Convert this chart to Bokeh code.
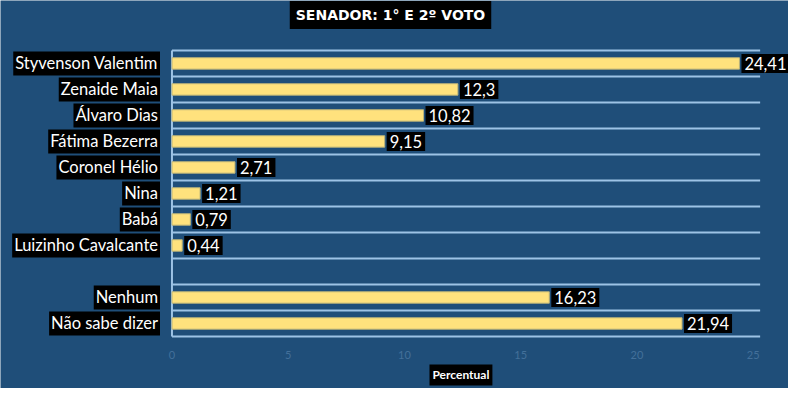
from bokeh.plotting import figure
from bokeh.models import ColumnDataSource, LabelSet, Label, Range1d
from bokeh.core.properties import value
from bokeh.embed import file_html
from bokeh.resources import INLINE

# data
names = ["Styvenson Valentim", "Zenaide Maia", "Álvaro Dias", "Fátima Bezerra",
         "Coronel Hélio", "Nina", "Babá", "Luizinho Cavalcante",
         "Nenhum", "Não sabe dizer"]
values = [24.41, 12.3, 10.82, 9.15, 2.71, 1.21, 0.79, 0.44, 16.23, 21.94]
x_ticks = [0, 5, 10, 15, 20, 25]
title_text = "SENADOR: 1° E 2º VOTO"
axis_text = "Percentual"

BG = "#1f4e79"
GRID = "#9dc3e6"
FONT = "Lato"

# row slots, one empty slot between candidates and the other answers
slots = list(range(8)) + [9, 10]
n_rows = 11
ys = [n_rows - s - 0.5 for s in slots]
x_max = 25.3

source = ColumnDataSource({
    'name': names,
    'value': values,
    'y': ys,
    'zero': [0] * len(values),
    'label': [str(v).replace('.', ',') for v in values],
})

# the frame fills the whole canvas so that the labels around the bars are not clipped
p = figure(width=788, height=388, output_backend="svg", toolbar_location=None,
           x_range=Range1d(-7.376, 26.52), y_range=Range1d(-2.0, 12.92),
           min_border=0)
p.axis.visible = False
p.grid.visible = False
p.background_fill_color = BG
p.border_fill_color = BG
p.outline_line_color = None

# horizontal lines between rows and the left axis line
lines = list(range(n_rows + 1))
p.segment(x0=0, x1=x_max, y0=lines, y1=lines, line_color=GRID, line_width=2)
p.segment(x0=0, x1=0, y0=0, y1=n_rows, line_color=GRID, line_width=2)

p.hbar(y='y', left=0, right='value', height=0.44, source=source,
       fill_color="#ffe27d", line_color="#b9b27a", line_width=1)

# x tick labels
p.text(x=x_ticks, y=-0.73, text=[str(t) for t in x_ticks], text_align="center",
       text_baseline="middle", text_color="#43709a", text_font=value(FONT),
       text_font_size="11px")

# category labels (black border widens the black box)
cats = LabelSet(x='zero', y='y', text='name', source=source,
                x_offset=-14, text_align="right", text_baseline="middle",
                text_color="white", text_font=value(FONT), text_font_size="16.5px",
                background_fill_color="black", border_line_color="black",
                border_line_width=4, border_line_join="miter")
p.add_layout(cats)

# value labels
vals = LabelSet(x='value', y='y', text='label', source=source,
                x_offset=5, text_align="left", text_baseline="middle",
                text_color="white", text_font=value(FONT), text_font_size="16.5px",
                background_fill_color="black", border_line_color="black",
                border_line_width=6, border_line_join="miter")
p.add_layout(vals)

title = Label(x=9.40, y=12.365, text=title_text, text_align="center",
              text_baseline="middle", text_color="white", text_font="DejaVu Sans",
              text_font_style="bold", text_font_size="14px",
              background_fill_color="black", padding=6)
p.add_layout(title)

xlabel = Label(x=12.43, y=-1.48, text=axis_text, text_align="center",
               text_baseline="middle", text_color="white", text_font=FONT,
               text_font_style="bold", text_font_size="12px",
               background_fill_color="black", padding=3)
p.add_layout(xlabel)

open("out.html", "w").write(file_html(p, INLINE))
